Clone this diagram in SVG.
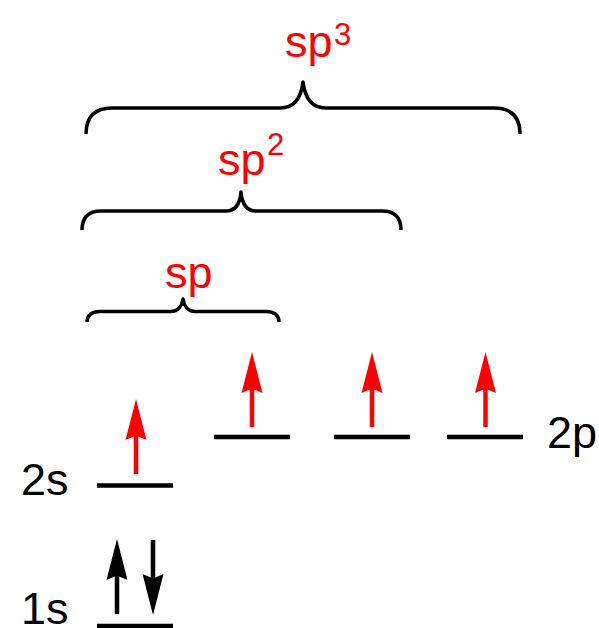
<svg xmlns="http://www.w3.org/2000/svg" width="599" height="628" viewBox="0 0 599 628">
  <defs>
    <style>
      .lbl { font-family: "Liberation Sans", Arial, sans-serif; font-size: 45px; fill: #000; }
      .hyb { font-family: "Liberation Sans", Arial, sans-serif; font-size: 45px; fill: #ff0000; }
      .sup { font-size: 31px; }
      .level { stroke: #000; stroke-width: 4.5; fill: none; }
      .brace { stroke: #000; stroke-width: 3.5; fill: none; stroke-linejoin: round; }
      .up-red { fill: #ff0000; }
      .blk { fill: #000; }
    </style>
    <!-- electron arrow pointing up, origin at the tip; shaft 34px below head base -->
    <path id="arrowUp" d="M0,0 L10.5,41 L2.25,37.5 L2.25,75 L-2.25,75 L-2.25,37.5 L-10.5,41 Z"/>
  </defs>

  <!-- hybridisation braces -->
  <g id="brace-sp3">
    <path class="brace" d="M86,134 C86,118 93,108 112,108 L280,108 C294,108 301,99 303,82 C305,99 312,108 326,108 L494,108 C513,108 520,118 520,134"/>
    <text class="hyb" x="285" y="57">sp<tspan class="sup" x="334" y="45">3</tspan></text>
  </g>
  <g id="brace-sp2">
    <path class="brace" d="M82,230 C82,218 88,211 101,211 L226,211 C236,211 240,204 241,192 C242,204 246,211 256,211 L382,211 C395,211 401,218 401,230"/>
    <text class="hyb" x="218" y="175">sp<tspan class="sup" x="267" y="155">2</tspan></text>
  </g>
  <g id="brace-sp">
    <path class="brace" d="M87,322 C87,315 92,311.5 100,311.5 L171,311.5 C178,311.5 182,306 183,299 C184,306 188,311.5 195,311.5 L266,311.5 C274,311.5 279,315 279,322"/>
    <text class="hyb" x="165" y="288">sp</text>
  </g>

  <!-- 2p orbitals, one electron each -->
  <g id="orbital-2p">
    <line class="level" x1="214" y1="437" x2="290" y2="437"/>
    <line class="level" x1="334" y1="437" x2="410" y2="437"/>
    <line class="level" x1="447" y1="437" x2="523" y2="437"/>
    <use href="#arrowUp" class="up-red" x="252" y="352"/>
    <use href="#arrowUp" class="up-red" x="372" y="352"/>
    <use href="#arrowUp" class="up-red" x="485.5" y="352"/>
    <text class="lbl" x="547" y="448">2p</text>
  </g>

  <!-- 2s orbital, one electron -->
  <g id="orbital-2s">
    <line class="level" x1="97" y1="485.5" x2="173" y2="485.5"/>
    <use href="#arrowUp" class="up-red" x="136" y="399"/>
    <text class="lbl" x="21" y="495">2s</text>
  </g>

  <!-- 1s orbital, paired electrons -->
  <g id="orbital-1s">
    <line class="level" x1="97" y1="626" x2="173" y2="626"/>
    <use href="#arrowUp" class="blk" x="117" y="539"/>
    <use href="#arrowUp" class="blk" transform="translate(153,615) scale(1,-1)"/>
    <text class="lbl" x="21" y="624">1s</text>
  </g>
</svg>
